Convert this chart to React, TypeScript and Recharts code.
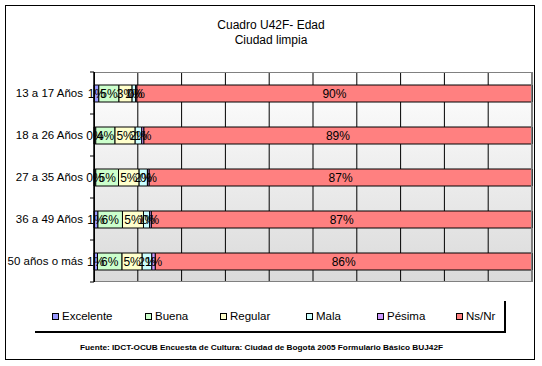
import React from 'react';
import { BarChart, Bar, XAxis, YAxis, CartesianGrid, LabelList } from 'recharts';

const categories = ['13 a 17 Años', '18 a 26 Años', '27 a 35 Años', '36 a 49 Años', '50 años o más'];
const excelente = [1.1, 0.4, 0.4, 0.9, 0.8];
const buena = [4.6, 4.4, 5.2, 5.6, 5.6];
const regular = [3.0, 4.6, 4.7, 4.8, 4.6];
const mala = [0.8, 1.5, 1.9, 1.4, 2.2];
const pesima = [0.3, 0.5, 0.4, 0.4, 0.8];
const nsnr = [90.2, 88.6, 87.4, 86.9, 86.0];
const seriesNames = ['Excelente', 'Buena', 'Regular', 'Mala', 'Pésima', 'Ns/Nr'];
const seriesColors = ['#9999ff', '#ccffcc', '#ffffcc', '#ccffff', '#cc99ff', '#ff8080'];
const xTicks = [0, 10, 20, 30, 40, 50, 60, 70, 80, 90, 100];
const titleLines = ['Cuadro U42F- Edad', 'Ciudad limpia'];
const sourceText = 'Fuente: IDCT-OCUB Encuesta de Cultura: Ciudad de Bogotá 2005 Formulario Básico BUJ42F';

const seriesValues = [excelente, buena, regular, mala, pesima, nsnr];
const keys = ['s0', 's1', 's2', 's3', 's4', 's5'];
const data = categories.map((name, i) => {
  const row: any = { name };
  seriesValues.forEach((vals, s) => { row[keys[s]] = vals[i]; });
  return row;
});

const FONT = '"Liberation Sans", Arial, sans-serif';
const TICK_MARGIN = 11;

const YTick = (props: any) => {
  const { x, y, payload, index, visibleTicksCount } = props;
  const ax = x + TICK_MARGIN;
  const off = payload && payload.offset ? payload.offset : 21;
  return (
    <g>
      <text x={x} y={y} dy={4} textAnchor="end" fontSize={11.5} fill="#000" fontFamily={FONT}>
        {payload.value}
      </text>
      <line x1={ax - 4} x2={ax} y1={y - off} y2={y - off} stroke="#000" />
      {index === visibleTicksCount - 1 && (
        <line x1={ax - 4} x2={ax} y1={y + off} y2={y + off} stroke="#000" />
      )}
    </g>
  );
};

const legendX = [52, 145, 220, 306, 377, 456];

export default function App() {
  return (
    <div style={{ position: 'absolute', left: 0, top: 0, width: 542, height: 366, background: '#fff', fontFamily: FONT }}>
      <BarChart
        width={542}
        height={366}
        data={data}
        layout="vertical"
        margin={{ top: 72, right: 10, bottom: 84, left: 0 }}
        barSize={17}
      >
        <defs>
          <linearGradient id="plotBg" x1="0" y1="0" x2="0" y2="1">
            <stop offset="0%" stopColor="#ffffff" />
            <stop offset="100%" stopColor="#dadada" />
          </linearGradient>
        </defs>
        <CartesianGrid horizontal={false} stroke="#000" fill="url(#plotBg)" fillOpacity={1} />
        <XAxis type="number" domain={[0, 100]} ticks={xTicks} hide />
        <YAxis
          type="category"
          dataKey="name"
          width={94}
          axisLine={{ stroke: '#000' }}
          tickLine={false}
          tickSize={0}
          tickMargin={TICK_MARGIN}
          tick={<YTick />}
          interval={0}
        />
        {keys.map((k, s) => (
          <Bar key={k} dataKey={k} stackId="a" fill={seriesColors[s]} stroke="#000" strokeWidth={1} isAnimationActive={false}>
            <LabelList
              dataKey={k}
              position="center"
              formatter={(v: any) => `${Math.round(Number(v))}%`}
              fill="#000"
              fontSize={12}
              fontFamily={FONT}
            />
          </Bar>
        ))}
      </BarChart>
      <svg width={542} height={366} style={{ position: 'absolute', left: 0, top: 0, pointerEvents: 'none' }}>
        <rect x={5.5} y={5.5} width={529} height={354} fill="none" stroke="#000" />
        <rect x={94.5} y={72.5} width={437} height={209} fill="none" stroke="#808080" />
        <line x1={94.5} x2={94.5} y1={72} y2={282} stroke="#000" />
        {titleLines.map((t, i) => (
          <text key={t} x={271} y={29 + i * 15} textAnchor="middle" fontSize={12} fill="#000" fontFamily={FONT}>
            {t}
          </text>
        ))}
        <line x1={35} x2={506} y1={332} y2={332} stroke="#000" strokeWidth={2} />
        <line x1={505} x2={505} y1={301} y2={333} stroke="#000" strokeWidth={2} />
        {seriesNames.map((n, i) => (
          <g key={n}>
            <rect x={legendX[i] + 0.5} y={313.5} width={6} height={6} fill={seriesColors[i]} stroke="#000" />
            <text x={legendX[i] + 10} y={320} fontSize={11.5} fill="#000" fontFamily={FONT}>{n}</text>
          </g>
        ))}
        <text x={80} y={350} fontSize={8} fontWeight="bold" fill="#000" fontFamily={FONT} textLength={363} lengthAdjust="spacingAndGlyphs">
          {sourceText}
        </text>
      </svg>
    </div>
  );
}
